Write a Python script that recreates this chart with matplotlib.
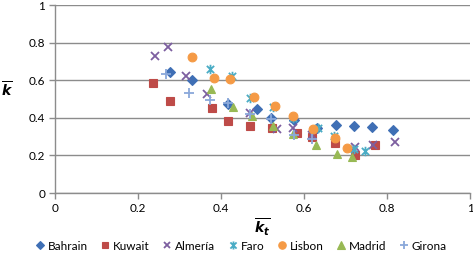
import matplotlib
matplotlib.use("Agg")
import matplotlib.pyplot as plt
from matplotlib.path import Path

plt.rcParams['font.family'] = ['Lato', 'DejaVu Sans']
plt.rcParams['mathtext.fontset'] = 'dejavusans'

series_names = ["Bahrain", "Kuwait", "Almería", "Faro", "Lisbon", "Madrid", "Girona"]

bahrain_x = [0.277, 0.330, 0.417, 0.487, 0.520, 0.575, 0.632, 0.677, 0.720, 0.763, 0.815]
bahrain_y = [0.644, 0.600, 0.475, 0.447, 0.400, 0.390, 0.345, 0.362, 0.356, 0.352, 0.337]

kuwait_x = [0.236, 0.277, 0.378, 0.417, 0.470, 0.523, 0.583, 0.620, 0.675, 0.723, 0.771]
kuwait_y = [0.585, 0.490, 0.452, 0.383, 0.356, 0.345, 0.320, 0.300, 0.265, 0.200, 0.255]

almeria_x = [0.241, 0.272, 0.316, 0.366, 0.470, 0.535, 0.573, 0.620, 0.723, 0.767, 0.820]
almeria_y = [0.729, 0.777, 0.622, 0.525, 0.425, 0.340, 0.345, 0.310, 0.245, 0.255, 0.270]

faro_x = [0.373, 0.427, 0.470, 0.525, 0.573, 0.633, 0.672, 0.720, 0.747]
faro_y = [0.660, 0.620, 0.505, 0.455, 0.400, 0.345, 0.303, 0.235, 0.223]

lisbon_x = [0.330, 0.383, 0.422, 0.480, 0.530, 0.573, 0.622, 0.675, 0.704]
lisbon_y = [0.723, 0.610, 0.606, 0.510, 0.463, 0.410, 0.340, 0.290, 0.238]

madrid_x = [0.376, 0.429, 0.475, 0.525, 0.573, 0.629, 0.680, 0.716]
madrid_y = [0.553, 0.457, 0.410, 0.355, 0.314, 0.255, 0.207, 0.190]

girona_x = [0.267, 0.323, 0.373, 0.417, 0.470, 0.520, 0.575, 0.620]
girona_y = [0.633, 0.532, 0.495, 0.480, 0.420, 0.395, 0.310, 0.285]

x_ticks = [0, 0.2, 0.4, 0.6, 0.8, 1]
y_ticks = [0, 0.2, 0.4, 0.6, 0.8, 1]
x_tick_labels = ["0", "0.2", "0.4", "0.6", "0.8", "1"]
y_tick_labels = ["0", "0.2", "0.4", "0.6", "0.8", "1"]

# Excel-like "star" marker: X plus vertical line
star_path = Path(
    [(-1, -1), (1, 1), (-1, 1), (1, -1), (0, -1.3), (0, 1.3)],
    [Path.MOVETO, Path.LINETO, Path.MOVETO, Path.LINETO, Path.MOVETO, Path.LINETO],
)

data = [
    (bahrain_x, bahrain_y, dict(marker='D', color='#3F6FB5', ms=5.0)),
    (kuwait_x, kuwait_y, dict(marker='s', color='#BE4B48', ms=5.8)),
    (almeria_x, almeria_y, dict(marker='x', color='#7D5FA0', ms=5.6, mew=1.3)),
    (faro_x, faro_y, dict(marker=star_path, color='#4AACC5', ms=6.8, mew=1.3)),
    (lisbon_x, lisbon_y, dict(marker='o', color='#F59A45', ms=6.3)),
    (madrid_x, madrid_y, dict(marker='^', color='#98B954', ms=6.3)),
    (girona_x, girona_y, dict(marker='+', color='#8AA8DA', ms=6.5, mew=1.3)),
]

fig = plt.figure(figsize=(4.73, 2.58), dpi=100)
ax = fig.add_axes([55/473, 65/258, 415/473, 188/258])

for name, (xs, ys, st) in zip(series_names, data):
    ax.plot(xs, ys, linestyle='none', marker=st['marker'], color=st['color'],
            markersize=st['ms'], markeredgewidth=st.get('mew', 0.8),
            label=name, zorder=3)

ax.set_xlim(0, 1)
ax.set_ylim(0, 1)
ax.set_xticks(x_ticks)
ax.set_xticklabels(x_tick_labels)
ax.set_yticks(y_ticks)
ax.set_yticklabels(y_tick_labels)
ax.grid(axis='y', color='#8C8C8C', linewidth=1.0, zorder=0)
ax.set_axisbelow(True)

for s in ['top', 'right']:
    ax.spines[s].set_visible(False)
for s in ['left', 'bottom']:
    ax.spines[s].set_color('#8C8C8C')
    ax.spines[s].set_linewidth(1.0)

ax.tick_params(axis='both', colors='#8C8C8C', labelcolor='black', labelsize=8.5,
               length=4, width=1.0, direction='out')
ax.tick_params(axis='y', pad=3)
ax.tick_params(axis='x', pad=3)

ax.set_xlabel(r'$\overline{\boldsymbol{k}_{\boldsymbol{t}}}$', fontsize=10, labelpad=2)
ax.set_ylabel(r'$\overline{\boldsymbol{k}}$', fontsize=10, rotation=0, labelpad=0)
ax.yaxis.set_label_coords(-0.115, 0.5)

leg = fig.legend(loc='center', bbox_to_anchor=(0.51, 12/258), ncol=7, frameon=False,
                 fontsize=8.5, handlelength=0.7, handletextpad=0.3, columnspacing=1.15,
                 borderaxespad=0, markerscale=0.85)

fig.savefig('out.png', dpi=100)
